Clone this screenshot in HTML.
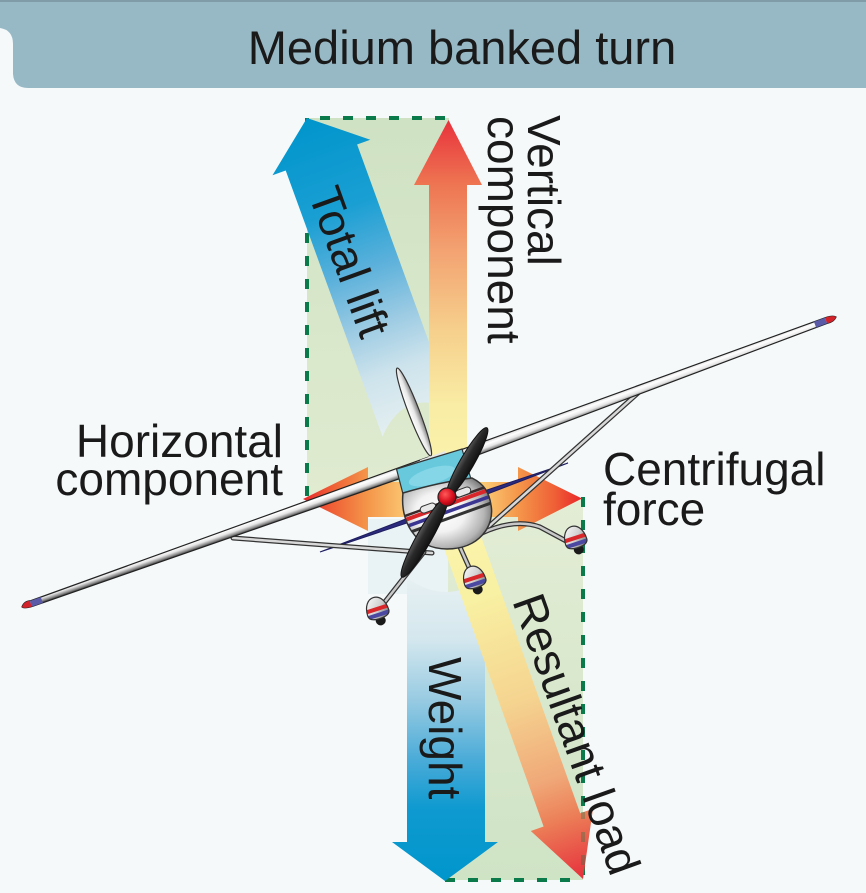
<!DOCTYPE html>
<html>
<head>
<meta charset="utf-8">
<style>
  html,body{margin:0;padding:0;background:#f5f9fa;}
  svg{display:block;}
  text{font-family:"Liberation Sans", Arial, sans-serif; fill:#1a1a1a;}
</style>
</head>
<body>
<svg width="866" height="893" viewBox="0 0 866 893" xmlns="http://www.w3.org/2000/svg">
  <defs>
    <linearGradient id="gUp" gradientUnits="userSpaceOnUse" x1="0" y1="118" x2="0" y2="499">
      <stop offset="0" stop-color="#cfe2c3"/>
      <stop offset="1" stop-color="#e0ebd0"/>
    </linearGradient>
    <linearGradient id="gLow" gradientUnits="userSpaceOnUse" x1="0" y1="499" x2="0" y2="880">
      <stop offset="0" stop-color="#e3edd5"/>
      <stop offset="1" stop-color="#cfe3c5"/>
    </linearGradient>
    <linearGradient id="gLift" gradientUnits="userSpaceOnUse" x1="307" y1="118" x2="418" y2="423">
      <stop offset="0" stop-color="#0095cc"/>
      <stop offset="0.3" stop-color="#1a9fd3"/>
      <stop offset="0.5" stop-color="#5cb1db"/>
      <stop offset="0.67" stop-color="#9ccbe3"/>
      <stop offset="0.82" stop-color="#cde3ec"/>
      <stop offset="1" stop-color="#e4eff1"/>
    </linearGradient>
    <linearGradient id="gWeight" gradientUnits="userSpaceOnUse" x1="0" y1="580" x2="0" y2="880">
      <stop offset="0" stop-color="#e6f0f2"/>
      <stop offset="0.2" stop-color="#d4e7ee"/>
      <stop offset="0.4" stop-color="#98cbe2"/>
      <stop offset="0.6" stop-color="#4aabd8"/>
      <stop offset="0.76" stop-color="#0f9ad0"/>
      <stop offset="1" stop-color="#0096cc"/>
    </linearGradient>
    <linearGradient id="gVert" gradientUnits="userSpaceOnUse" x1="0" y1="120" x2="0" y2="500">
      <stop offset="0" stop-color="#e8323c"/>
      <stop offset="0.17" stop-color="#ee7552"/>
      <stop offset="0.35" stop-color="#f3a472"/>
      <stop offset="0.55" stop-color="#f6cf8c"/>
      <stop offset="0.75" stop-color="#f9eca4"/>
      <stop offset="1" stop-color="#fbf6b0"/>
    </linearGradient>
    <linearGradient id="gRes" gradientUnits="userSpaceOnUse" x1="447" y1="499" x2="583" y2="879">
      <stop offset="0" stop-color="#fbf6b0"/>
      <stop offset="0.26" stop-color="#f8f0a2"/>
      <stop offset="0.53" stop-color="#f5d490"/>
      <stop offset="0.74" stop-color="#f0a878"/>
      <stop offset="0.84" stop-color="#ec8058"/>
      <stop offset="1" stop-color="#e6303c"/>
    </linearGradient>
    <linearGradient id="gHL" gradientUnits="userSpaceOnUse" x1="303" y1="0" x2="447" y2="0">
      <stop offset="0" stop-color="#e8262a"/>
      <stop offset="0.2" stop-color="#ef5f36"/>
      <stop offset="0.45" stop-color="#f4964a"/>
      <stop offset="0.72" stop-color="#fbc872"/>
      <stop offset="1" stop-color="#fde6a0"/>
    </linearGradient>
    <linearGradient id="gHR" gradientUnits="userSpaceOnUse" x1="582" y1="0" x2="447" y2="0">
      <stop offset="0" stop-color="#e8262a"/>
      <stop offset="0.2" stop-color="#ef5f36"/>
      <stop offset="0.47" stop-color="#f4964a"/>
      <stop offset="0.72" stop-color="#fbc872"/>
      <stop offset="1" stop-color="#fde6a0"/>
    </linearGradient>
    <linearGradient id="wingL" gradientUnits="userSpaceOnUse" x1="428.2" y1="457.1" x2="431.8" y2="467.5">
      <stop offset="0" stop-color="#d8d8d8"/>
      <stop offset="0.3" stop-color="#ffffff"/>
      <stop offset="0.6" stop-color="#e6e6e6"/>
      <stop offset="0.85" stop-color="#8f8f8f"/>
      <stop offset="1" stop-color="#4a4a4a"/>
    </linearGradient>
    <linearGradient id="wingR" gradientUnits="userSpaceOnUse" x1="438.1" y1="458.1" x2="441.9" y2="468.5">
      <stop offset="0" stop-color="#d8d8d8"/>
      <stop offset="0.3" stop-color="#ffffff"/>
      <stop offset="0.6" stop-color="#e6e6e6"/>
      <stop offset="0.85" stop-color="#8f8f8f"/>
      <stop offset="1" stop-color="#4a4a4a"/>
    </linearGradient>
    <linearGradient id="finG" x1="0" y1="0" x2="1" y2="0">
      <stop offset="0" stop-color="#ffffff"/>
      <stop offset="0.5" stop-color="#e8e8e8"/>
      <stop offset="1" stop-color="#7a7a7a"/>
    </linearGradient>
    <radialGradient id="bodyG" cx="0.42" cy="0.48" r="0.62">
      <stop offset="0" stop-color="#ffffff"/>
      <stop offset="0.45" stop-color="#f2f2f2"/>
      <stop offset="0.8" stop-color="#b5b5b5"/>
      <stop offset="1" stop-color="#6e6e6e"/>
    </radialGradient>
    <radialGradient id="spinG" cx="0.4" cy="0.35" r="0.7">
      <stop offset="0" stop-color="#ff5a5a"/>
      <stop offset="0.6" stop-color="#d8101e"/>
      <stop offset="1" stop-color="#8a0010"/>
    </radialGradient>
    <linearGradient id="bladeG" x1="0" y1="0" x2="0" y2="1">
      <stop offset="0" stop-color="#5a5a5a"/>
      <stop offset="0.4" stop-color="#2a2a2a"/>
      <stop offset="1" stop-color="#111111"/>
    </linearGradient>
    <linearGradient id="fairG" x1="0" y1="0" x2="1" y2="1">
      <stop offset="0" stop-color="#ffffff"/>
      <stop offset="0.55" stop-color="#d0d0d0"/>
      <stop offset="1" stop-color="#6a6a6a"/>
    </linearGradient>
    <clipPath id="fairClip">
      <path d="M-11,4 C-11,-6 -6,-12 0,-12 C6,-12 11,-6 11,4 Q11,10 0,10 Q-11,10 -11,4 Z"/>
    </clipPath>
    <clipPath id="clipWL">
      <path d="M22,607 Q24,601 31,600.6 L428.2,457.1 L431.8,467.5 L33,606.2 Q24,609 22,607 Z"/>
    </clipPath>
    <clipPath id="clipWR">
      <path d="M438.1,458.1 L825,317.8 Q833,315 836,317 Q834,322 827,323.4 L441.9,468.5 Z"/>
    </clipPath>
    <clipPath id="bodyClip">
      <path d="M403,493 C400,520 414,549 447,549 C479,549 495,526 491,505 C489,492 484,484 472,478 Q440,482 403,493 Z"/>
    </clipPath>
    <g id="fair">
      <circle cx="0" cy="12" r="5" fill="#1a1a1a"/>
      <path d="M-11,4 C-11,-6 -6,-12 0,-12 C6,-12 11,-6 11,4 Q11,10 0,10 Q-11,10 -11,4 Z" fill="url(#fairG)"/>
      <g clip-path="url(#fairClip)">
        <rect x="-12" y="-2" width="24" height="4" fill="#d8262a"/>
        <rect x="-12" y="4" width="24" height="4" fill="#4a48a0"/>
      </g>
      <path d="M-11,4 C-11,-6 -6,-12 0,-12 C6,-12 11,-6 11,4 Q11,10 0,10 Q-11,10 -11,4 Z" fill="none" stroke="#333" stroke-width="1.2"/>
    </g>
  </defs>

  <!-- background -->
  <rect x="0" y="0" width="866" height="893" fill="#f5f9fa"/>

  <!-- header -->
  <rect x="0" y="0" width="866" height="2" fill="#7f9ca8"/>
  <path d="M0,2 H866 V88 H28 Q14,88 13,74 V44 Q13,30 0,28 Z" fill="#97b9c6"/>
  <text x="462" y="64" text-anchor="middle" font-size="47">Medium banked turn</text>

  <!-- green parallelograms -->
  <rect x="307" y="118" width="142" height="381" fill="url(#gUp)"/>
  <rect x="445" y="499" width="138" height="381" fill="url(#gLow)"/>

  <!-- dashed lines -->
  <g stroke="#0b7a4a" stroke-width="4" stroke-dasharray="10 13" fill="none">
    <line x1="307" y1="118" x2="449" y2="118" stroke-dashoffset="10"/>
    <line x1="307" y1="118" x2="307" y2="498"/>
    <line x1="583" y1="497" x2="583" y2="880"/>
    <line x1="445" y1="880" x2="583" y2="880"/>
  </g>

  <!-- pale region near plane -->
  <rect x="368" y="519" width="80" height="75" fill="#e9f2f4"/>

  <!-- Total lift arrow -->
  <path d="M307,118 L370.3,139.7 L357.1,144.5 L453.9,410.5 Q404.6,385.9 382.5,436.5 L285.7,170.5 L272.5,175.3 Z" fill="url(#gLift)"/>

  <!-- Vertical component arrow -->
  <path d="M429,500 L429,185 L414,185 L448.5,120 L482,185 L467,185 L467,500 Z" fill="url(#gVert)"/>

  <!-- Weight arrow -->
  <path d="M407,578 Q446,606 485,578 L485,842 L498,842 L445,881 L392,842 L407,842 Z" fill="url(#gWeight)"/>

  <!-- Resultant load arrow -->
  <path d="M442.2,543.2 L478.8,530 L580.2,813.3 L593,808.8 L583,879 L530.8,831 L543.6,826.5 Z" fill="url(#gRes)"/>
  <line x1="583" y1="812" x2="583" y2="878" stroke="#0b7a4a" stroke-width="4" stroke-dasharray="10 13" stroke-dashoffset="3" opacity="0.3"/>

  <!-- Horizontal / centrifugal arrows -->
  <path d="M447,482 L368,482 L368,467 L303,499 L368,531 L368,517 L447,517 Z" fill="url(#gHL)"/>
  <path d="M447,482 L518,482 L518,467 L582,498.5 L518,531 L518,517 L447,517 Z" fill="url(#gHR)"/>

  <!-- ===== Airplane ===== -->
  <!-- vertical fin -->
  <ellipse cx="414" cy="412" rx="5.5" ry="47" transform="rotate(-21 414 412)" fill="url(#finG)" stroke="#333" stroke-width="1.2"/>

  <!-- horizontal stabilizer -->
  <path d="M320,552 L443,504.7 L568,463 L445,510.3 Z" fill="#2b2a7e" stroke="#1e1d5e" stroke-width="1"/>

  <!-- struts -->
  <line x1="233" y1="538" x2="432" y2="553" stroke="#333" stroke-width="5" stroke-linecap="round"/>
  <line x1="233" y1="538" x2="432" y2="553" stroke="#d8d8d8" stroke-width="2.5" stroke-linecap="round"/>
  <line x1="638" y1="393" x2="487" y2="528" stroke="#333" stroke-width="5" stroke-linecap="round"/>
  <line x1="638" y1="393" x2="487" y2="528" stroke="#d8d8d8" stroke-width="2.5" stroke-linecap="round"/>

  <!-- wing -->
  <path d="M22,607 Q24,601 31,600.6 L428.2,457.1 L431.8,467.5 L33,606.2 Q24,609 22,607 Z" fill="url(#wingL)" stroke="#222" stroke-width="1.2"/>
  <path d="M438.1,458.1 L825,317.8 Q833,315 836,317 Q834,322 827,323.4 L441.9,468.5 Z" fill="url(#wingR)" stroke="#222" stroke-width="1.2"/>
  <path d="M420,460 L445,451 L448,462 L423,471 Z" fill="#e6e6e6"/>
  <g clip-path="url(#clipWL)">
    <line x1="18" y1="609" x2="31" y2="604.4" stroke="#d3222a" stroke-width="12"/>
    <line x1="31" y1="604.4" x2="42" y2="600.5" stroke="#5a5aa8" stroke-width="12"/>
  </g>
  <g clip-path="url(#clipWR)">
    <line x1="826" y1="320.5" x2="840" y2="315.5" stroke="#d3222a" stroke-width="12"/>
    <line x1="815" y1="324.5" x2="826" y2="320.5" stroke="#5a5aa8" stroke-width="12"/>
  </g>

  <!-- windshield -->
  <path d="M396.5,469 L462,449 L471,479 L403,494 Z" fill="#68c9dd" stroke="#333" stroke-width="1.2"/>
  <ellipse cx="432" cy="476" rx="24" ry="8" transform="rotate(-17 432 476)" fill="#92dbea" opacity="0.7"/>

  <!-- landing gear legs -->
  <line x1="424" y1="552" x2="384" y2="603" stroke="#333" stroke-width="5" stroke-linecap="round"/>
  <line x1="424" y1="552" x2="384" y2="603" stroke="#c8c8c8" stroke-width="2.5" stroke-linecap="round"/>
  <line x1="459" y1="545" x2="472" y2="574" stroke="#333" stroke-width="5" stroke-linecap="round"/>
  <line x1="459" y1="545" x2="472" y2="574" stroke="#c8c8c8" stroke-width="2.5" stroke-linecap="round"/>
  <path d="M482,533 Q515,518 540,527 L568,542" fill="none" stroke="#333" stroke-width="5" stroke-linecap="round"/>
  <path d="M482,533 Q515,518 540,527 L568,542" fill="none" stroke="#c8c8c8" stroke-width="2.5" stroke-linecap="round"/>

  <!-- wheel fairings -->
  <use href="#fair" transform="translate(575,538) rotate(-18)"/>
  <use href="#fair" transform="translate(474,578) rotate(-18)"/>
  <use href="#fair" transform="translate(377,609) rotate(-18)"/>

  <!-- body / cowling -->
  <path d="M403,493 C400,520 414,549 447,549 C479,549 495,526 491,505 C489,492 484,484 472,478 Q440,482 403,493 Z" fill="url(#bodyG)"/>
  <g clip-path="url(#bodyClip)">
    <line x1="395" y1="519.6" x2="500" y2="481.8" stroke="#3a2a2a" stroke-width="2.5"/>
    <line x1="395" y1="523.6" x2="500" y2="485.8" stroke="#d8262a" stroke-width="4"/>
    <line x1="395" y1="530.6" x2="500" y2="492.8" stroke="#3b3592" stroke-width="3.5"/>
    <line x1="395" y1="537.6" x2="500" y2="499.8" stroke="#333" stroke-width="3"/>
  </g>
  <path d="M403,493 C400,520 414,549 447,549 C479,549 495,526 491,505 C489,492 484,484 472,478 Q440,482 403,493 Z" fill="none" stroke="#333" stroke-width="1.5"/>

  <!-- intakes -->
  <rect x="420" y="504.5" width="16" height="7" rx="3.5" transform="rotate(-20 428 508)" fill="#e8e8e8" stroke="#333" stroke-width="1"/>
  <rect x="455" y="488.5" width="16" height="7" rx="3.5" transform="rotate(-20 463 492)" fill="#e8e8e8" stroke="#333" stroke-width="1"/>

  <!-- propeller -->
  <ellipse cx="467" cy="462.5" rx="40" ry="7" transform="rotate(-60 467 462.5)" fill="url(#bladeG)" stroke="#111" stroke-width="1"/>
  <ellipse cx="424.5" cy="537" rx="46" ry="7.5" transform="rotate(-60.6 424.5 537)" fill="url(#bladeG)" stroke="#111" stroke-width="1"/>

  <!-- spinner -->
  <circle cx="447" cy="497" r="9" fill="url(#spinG)" stroke="#222" stroke-width="1.2"/>

  <!-- ===== Labels ===== -->
  <g font-size="46">
    <text transform="translate(528,115) rotate(90)">Vertical</text>
    <text transform="translate(488,116) rotate(90)">component</text>
    <text transform="translate(308,194) rotate(70)">Total lift</text>
    <text x="283" y="457" text-anchor="end">Horizontal</text>
    <text x="283" y="495" text-anchor="end">component</text>
    <text x="603" y="485">Centrifugal</text>
    <text x="603" y="525">force</text>
    <text transform="translate(429,657) rotate(90)">Weight</text>
    <text transform="translate(512,601) rotate(70.3)">Resultant load</text>
  </g>
</svg>
</body>
</html>
